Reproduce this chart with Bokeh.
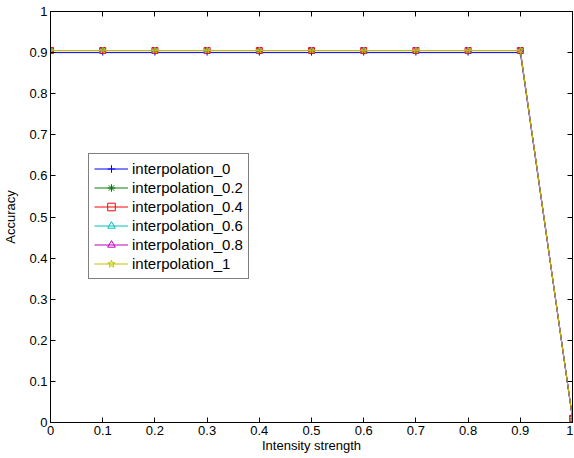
import math
from bokeh.plotting import figure
from bokeh.models import LinearAxis, FixedTicker, Range1d, Legend, LegendItem
from bokeh.embed import file_html
from bokeh.resources import INLINE

x_vals = [0, 0.1, 0.2, 0.3, 0.4, 0.5, 0.6, 0.7, 0.8, 0.9, 1.0]
acc_0 = [0.9, 0.9, 0.9, 0.9, 0.9, 0.9, 0.9, 0.9, 0.9, 0.9, 0.01]
acc_02 = [0.905, 0.905, 0.905, 0.905, 0.905, 0.905, 0.905, 0.905, 0.905, 0.905, 0.01]
acc_04 = [0.905, 0.905, 0.905, 0.905, 0.905, 0.905, 0.905, 0.905, 0.905, 0.905, 0.01]
acc_06 = [0.905, 0.905, 0.905, 0.905, 0.905, 0.905, 0.905, 0.905, 0.905, 0.905, 0.01]
acc_08 = [0.905, 0.905, 0.905, 0.905, 0.905, 0.905, 0.905, 0.905, 0.905, 0.905, 0.01]
acc_1 = [0.905, 0.905, 0.905, 0.905, 0.905, 0.905, 0.905, 0.905, 0.905, 0.905, 0.01]
labels = ["interpolation_0", "interpolation_0.2", "interpolation_0.4",
          "interpolation_0.6", "interpolation_0.8", "interpolation_1"]
ticks = [0, 0.1, 0.2, 0.3, 0.4, 0.5, 0.6, 0.7, 0.8, 0.9, 1]
tick_labels = {0: "0", 0.1: "0.1", 0.2: "0.2", 0.3: "0.3", 0.4: "0.4", 0.5: "0.5",
               0.6: "0.6", 0.7: "0.7", 0.8: "0.8", 0.9: "0.9", 1: "1"}

series = [acc_0, acc_02, acc_04, acc_06, acc_08, acc_1]
colors = ["#0000ff", "#008000", "#ff0000", "#00bfbf", "#bf00bf", "#bfbf00"]
markers = ["cross", "asterisk", "square", "triangle", "triangle", "star"]
angles = [0, 0, 0, 0, -90, 0]

FONT = "Liberation Sans"

p = figure(width=573, height=455, output_backend="svg", toolbar_location=None,
           x_range=Range1d(0, 1), y_range=Range1d(0, 1),
           min_border_left=47, min_border_top=11, min_border_right=1, min_border_bottom=27)
p.xgrid.visible = False
p.ygrid.visible = False
p.outline_line_color = "black"
p.outline_line_width = 1
p.background_fill_color = "white"
p.border_fill_color = "white"

for ax in (p.xaxis[0], p.yaxis[0]):
    ax.ticker = FixedTicker(ticks=ticks)
    ax.major_label_overrides = tick_labels
    ax.major_tick_in = 5
    ax.major_tick_out = 0
    ax.minor_tick_line_color = None
    ax.axis_line_color = "black"
    ax.major_tick_line_color = "black"
    ax.major_label_text_font = FONT
    ax.major_label_text_font_size = "13px"
    ax.major_label_text_color = "black"
    ax.axis_label_text_font = FONT
    ax.axis_label_text_font_size = "13px"
    ax.axis_label_text_font_style = "normal"
    ax.axis_label_text_color = "black"
p.xaxis[0].axis_label = "Intensity strength"
p.yaxis[0].axis_label = "Accuracy"
p.xaxis[0].axis_label_standoff = 0
p.yaxis[0].axis_label_standoff = 8
p.xaxis[0].major_label_standoff = 3
p.yaxis[0].major_label_standoff = 3

top = LinearAxis(ticker=FixedTicker(ticks=ticks), major_label_text_font_size="0px",
                 major_tick_in=5, major_tick_out=0, minor_tick_line_color=None,
                 major_label_text_color=None)
right = LinearAxis(ticker=FixedTicker(ticks=ticks), major_label_text_font_size="0px",
                   major_tick_in=5, major_tick_out=0, minor_tick_line_color=None,
                   major_label_text_color=None)
p.add_layout(top, "above")
p.add_layout(right, "right")

items = []
for ys, c, m, a, lab in zip(series, colors, markers, angles, labels):
    r1 = p.line(x_vals, ys, line_color=c, line_width=1)
    r2 = p.scatter(x_vals, ys, marker=m, angle=a, angle_units="deg", size=6,
                   line_color=c, fill_color=None, line_width=1)
    items.append(LegendItem(label=lab, renderers=[r1, r2]))

legend = Legend(items=items, location=(38, 143))
legend.label_text_font = FONT
legend.label_text_font_size = "15px"
legend.label_text_color = "black"
legend.border_line_color = "black"
legend.border_line_width = 1
legend.background_fill_alpha = 1
legend.glyph_width = 34
legend.glyph_height = 19
legend.label_height = 19
legend.spacing = 0
legend.padding = 5
legend.margin = 0
legend.label_standoff = 4
p.add_layout(legend, "center")

open("out.html", "w").write(file_html(p, INLINE))
